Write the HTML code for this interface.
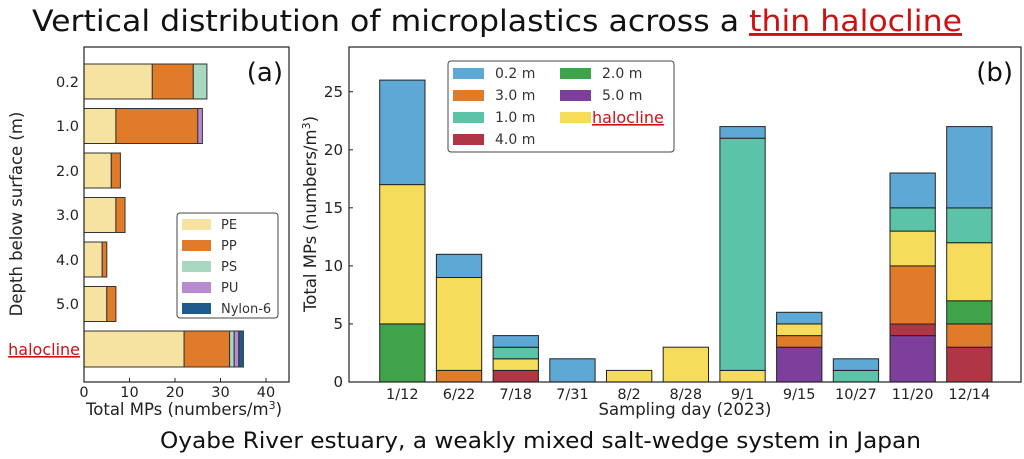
<!DOCTYPE html>
<html><head><meta charset="utf-8"><style>
html,body{margin:0;padding:0;background:#fff;}
svg{display:block;font-family:"DejaVu Sans","Liberation Sans",sans-serif;}
</style></head><body>
<svg width="1024" height="459" viewBox="0 0 1024 459" xmlns="http://www.w3.org/2000/svg">
<text x="32" y="31" font-size="29" textLength="930" lengthAdjust="spacingAndGlyphs" fill="#111">Vertical distribution of microplastics across a <tspan fill="#cc1111" text-decoration="underline">thin halocline</tspan></text>

<!-- Panel a -->
<g stroke="#333" stroke-width="1">
<rect x="84" y="64" width="68.3" height="35" fill="#f6e3a1"/>
<rect x="152.3" y="64" width="41" height="35" fill="#e07b2a"/>
<rect x="193.3" y="64" width="13.6" height="35" fill="#a9d8c0"/>
<rect x="84" y="108.5" width="31.9" height="35" fill="#f6e3a1"/>
<rect x="115.9" y="108.5" width="81.9" height="35" fill="#e07b2a"/>
<rect x="197.8" y="108.5" width="4.6" height="35" fill="#b88ad0"/>
<rect x="84" y="153" width="27.3" height="35" fill="#f6e3a1"/>
<rect x="111.3" y="153" width="9.1" height="35" fill="#e07b2a"/>
<rect x="84" y="197.5" width="31.9" height="35" fill="#f6e3a1"/>
<rect x="115.9" y="197.5" width="9.1" height="35" fill="#e07b2a"/>
<rect x="84" y="242" width="18.2" height="35" fill="#f6e3a1"/>
<rect x="102.2" y="242" width="4.6" height="35" fill="#e07b2a"/>
<rect x="84" y="286.5" width="22.8" height="35" fill="#f6e3a1"/>
<rect x="106.8" y="286.5" width="9.1" height="35" fill="#e07b2a"/>
<rect x="84" y="331" width="100.1" height="36" fill="#f6e3a1"/>
<rect x="184.1" y="331" width="45.5" height="36" fill="#e07b2a"/>
<rect x="229.6" y="331" width="4.6" height="36" fill="#a9d8c0"/>
<rect x="234.2" y="331" width="4.6" height="36" fill="#b88ad0"/>
<rect x="238.8" y="331" width="4.6" height="36" fill="#1f5a8c"/>
</g>
<rect x="84" y="47" width="205" height="335" fill="none" stroke="#222" stroke-width="1.2"/>
<g stroke="#222" stroke-width="1">
<line x1="84" y1="382" x2="84" y2="378"/><line x1="129.5" y1="382" x2="129.5" y2="378"/><line x1="175" y1="382" x2="175" y2="378"/><line x1="220.5" y1="382" x2="220.5" y2="378"/><line x1="266" y1="382" x2="266" y2="378"/>
</g>
<g font-size="14.5" fill="#222" text-anchor="middle">
<text x="84" y="397">0</text><text x="129.5" y="397">10</text><text x="175" y="397">20</text><text x="220.5" y="397">30</text><text x="266" y="397">40</text>
</g>
<g font-size="14.5" fill="#222" text-anchor="end">
<text x="79" y="87">0.2</text><text x="79" y="131">1.0</text><text x="79" y="176">2.0</text><text x="79" y="220">3.0</text><text x="79" y="265">4.0</text><text x="79" y="309">5.0</text>
</g>
<text x="80" y="355" font-size="16" fill="#cc1111" text-anchor="end" text-decoration="underline">halocline</text>
<text x="184" y="415" font-size="16.5" fill="#222" text-anchor="middle">Total MPs (numbers/m<tspan font-size="11" dy="-6">3</tspan><tspan dy="6">)</tspan></text>
<text transform="translate(22,214) rotate(-90)" font-size="16.5" fill="#222" text-anchor="middle">Depth below surface (m)</text>
<text x="283" y="81" font-size="26" fill="#111" text-anchor="end">(a)</text>
<rect x="177" y="213" width="101" height="105" rx="3" fill="#fff" stroke="#444" stroke-width="1"/>
<g font-size="13" fill="#333">
<rect x="182" y="219" width="29" height="11" fill="#f6e3a1"/><text x="221" y="229">PE</text>
<rect x="182" y="240" width="29" height="11" fill="#e07b2a"/><text x="221" y="250">PP</text>
<rect x="182" y="261" width="29" height="11" fill="#a9d8c0"/><text x="221" y="271">PS</text>
<rect x="182" y="282" width="29" height="11" fill="#b88ad0"/><text x="221" y="292">PU</text>
<rect x="182" y="303" width="29" height="11" fill="#1f5a8c"/><text x="221" y="313">Nylon-6</text>
</g>

<!-- Panel b -->
<g stroke="#222" stroke-width="1">
<rect x="379.7" y="323.9" width="45.3" height="58.1" fill="#3fa34a"/>
<rect x="379.7" y="184.6" width="45.3" height="139.3" fill="#f5dc5a"/>
<rect x="379.7" y="80.1" width="45.3" height="104.5" fill="#5ea8d6"/>
<rect x="436.4" y="370.4" width="45.3" height="11.6" fill="#e07b2a"/>
<rect x="436.4" y="277.5" width="45.3" height="92.9" fill="#f5dc5a"/>
<rect x="436.4" y="254.3" width="45.3" height="23.2" fill="#5ea8d6"/>
<rect x="493.1" y="370.4" width="45.3" height="11.6" fill="#b03545"/>
<rect x="493.1" y="358.8" width="45.3" height="11.6" fill="#f5dc5a"/>
<rect x="493.1" y="347.2" width="45.3" height="11.6" fill="#5ac3a8"/>
<rect x="493.1" y="335.6" width="45.3" height="11.6" fill="#5ea8d6"/>
<rect x="549.8" y="358.8" width="45.3" height="23.2" fill="#5ea8d6"/>
<rect x="606.5" y="370.4" width="45.3" height="11.6" fill="#f5dc5a"/>
<rect x="663.2" y="347.2" width="45.3" height="34.8" fill="#f5dc5a"/>
<rect x="719.9" y="370.4" width="45.3" height="11.6" fill="#f5dc5a"/>
<rect x="719.9" y="138.2" width="45.3" height="232.2" fill="#5ac3a8"/>
<rect x="719.9" y="126.6" width="45.3" height="11.6" fill="#5ea8d6"/>
<rect x="776.6" y="347.2" width="45.3" height="34.8" fill="#7e3f9c"/>
<rect x="776.6" y="335.6" width="45.3" height="11.6" fill="#e07b2a"/>
<rect x="776.6" y="324" width="45.3" height="11.6" fill="#f5dc5a"/>
<rect x="776.6" y="312.3" width="45.3" height="11.6" fill="#5ea8d6"/>
<rect x="833.3" y="370.4" width="45.3" height="11.6" fill="#5ac3a8"/>
<rect x="833.3" y="358.8" width="45.3" height="11.6" fill="#5ea8d6"/>
<rect x="890" y="335.6" width="45.3" height="46.4" fill="#7e3f9c"/>
<rect x="890" y="324" width="45.3" height="11.6" fill="#b03545"/>
<rect x="890" y="265.9" width="45.3" height="58.1" fill="#e07b2a"/>
<rect x="890" y="231.1" width="45.3" height="34.8" fill="#f5dc5a"/>
<rect x="890" y="207.9" width="45.3" height="23.2" fill="#5ac3a8"/>
<rect x="890" y="173" width="45.3" height="34.8" fill="#5ea8d6"/>
<rect x="946.7" y="347.2" width="45.3" height="34.8" fill="#b03545"/>
<rect x="946.7" y="324" width="45.3" height="23.2" fill="#e07b2a"/>
<rect x="946.7" y="300.7" width="45.3" height="23.2" fill="#3fa34a"/>
<rect x="946.7" y="242.7" width="45.3" height="58.1" fill="#f5dc5a"/>
<rect x="946.7" y="207.9" width="45.3" height="34.8" fill="#5ac3a8"/>
<rect x="946.7" y="126.6" width="45.3" height="81.3" fill="#5ea8d6"/>
</g>
<rect x="349" y="47" width="672" height="335" fill="none" stroke="#222" stroke-width="1.2"/>
<g stroke="#222" stroke-width="1">
<line x1="349" y1="382" x2="353" y2="382"/><line x1="349" y1="323.9" x2="353" y2="323.9"/><line x1="349" y1="265.9" x2="353" y2="265.9"/><line x1="349" y1="207.8" x2="353" y2="207.8"/><line x1="349" y1="149.8" x2="353" y2="149.8"/><line x1="349" y1="91.7" x2="353" y2="91.7"/>
</g>
<g font-size="15" fill="#222" text-anchor="end">
<text x="343" y="387">0</text><text x="343" y="329">5</text><text x="343" y="271">10</text><text x="343" y="213">15</text><text x="343" y="155">20</text><text x="343" y="97">25</text>
</g>
<g font-size="14.5" fill="#222" text-anchor="middle">
<text x="402.3" y="399">1/12</text><text x="459" y="399">6/22</text><text x="515.7" y="399">7/18</text><text x="572.4" y="399">7/31</text><text x="629.1" y="399">8/2</text><text x="685.8" y="399">8/28</text><text x="742.5" y="399">9/1</text><text x="799.2" y="399">9/15</text><text x="855.9" y="399">10/27</text><text x="912.6" y="399">11/20</text><text x="969.3" y="399">12/14</text>
</g>
<text x="685" y="415" font-size="16.5" fill="#222" text-anchor="middle">Sampling day (2023)</text>
<text transform="translate(316,214) rotate(-90)" font-size="16.5" fill="#222" text-anchor="middle">Total MPs (numbers/m<tspan font-size="11" dy="-6">3</tspan><tspan dy="6">)</tspan></text>
<text x="1013" y="81" font-size="26" fill="#111" text-anchor="end">(b)</text>
<rect x="448" y="61" width="226" height="91" rx="3" fill="#fff" stroke="#444" stroke-width="1"/>
<g font-size="14" fill="#333">
<rect x="453" y="68" width="31" height="11" fill="#5ea8d6"/><text x="495" y="78">0.2 m</text>
<rect x="453" y="90" width="31" height="11" fill="#e07b2a"/><text x="495" y="100">3.0 m</text>
<rect x="453" y="112" width="31" height="11" fill="#5ac3a8"/><text x="495" y="122">1.0 m</text>
<rect x="453" y="134" width="31" height="11" fill="#b03545"/><text x="495" y="144">4.0 m</text>
<rect x="560" y="68" width="31" height="11" fill="#3fa34a"/><text x="602" y="78">2.0 m</text>
<rect x="560" y="90" width="31" height="11" fill="#7e3f9c"/><text x="602" y="100">5.0 m</text>
<rect x="560" y="112" width="31" height="11" fill="#f5dc5a"/><text x="592" y="123" font-size="16" fill="#cc1111" text-decoration="underline">halocline</text>
</g>

<text x="160" y="448" font-size="22.5" textLength="761" lengthAdjust="spacingAndGlyphs" fill="#111">Oyabe River estuary, a weakly mixed salt-wedge system in Japan</text>
</svg>
</body></html>
